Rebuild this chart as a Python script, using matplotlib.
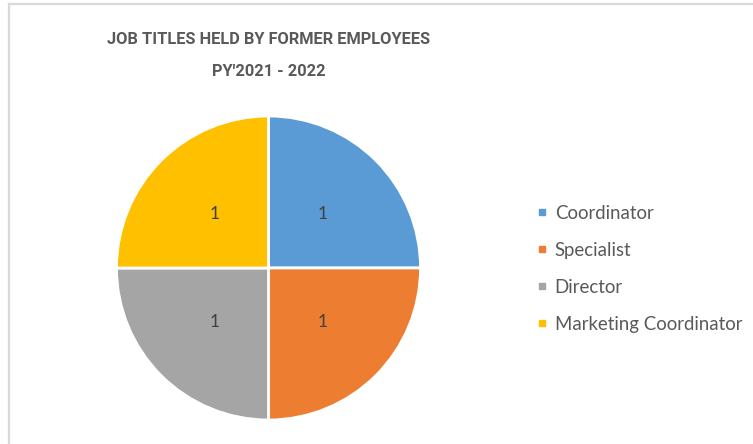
import matplotlib
matplotlib.use("Agg")
import matplotlib.pyplot as plt
from matplotlib.lines import Line2D

# Former employee job titles, one person each
titles = ["Coordinator", "Specialist", "Director", "Marketing Coordinator"]
counts = [1, 1, 1, 1]
colors = ["#5B9BD5", "#ED7D31", "#A5A5A5", "#FFC000"]

FONT = ["Lato", "DejaVu Sans"]
TITLE_FONT = ["Roboto", "DejaVu Sans"]

W, H = 753, 444
fig = plt.figure(figsize=(W / 100, H / 100), dpi=100)
fig.patch.set_facecolor("white")

# chart frame (only top and left edges are visible)
fig.add_artist(Line2D([8.5 / W, 8.5 / W], [0, 1 - 4.5 / H], transform=fig.transFigure,
                      color="#d9d9d9", lw=1.6))
fig.add_artist(Line2D([8.5 / W, 1], [1 - 4.5 / H, 1 - 4.5 / H], transform=fig.transFigure,
                      color="#d9d9d9", lw=1.6))

# pie sits in a square box, center ~ (268, 268) px, radius ~152 px
cx, cy, r = 268.5, 268, 152
ax = fig.add_axes([(cx - r) / W, (H - cy - r) / H, 2 * r / W, 2 * r / H])
wedges, texts = ax.pie(
    counts,
    colors=colors,
    startangle=90,
    counterclock=False,
    labels=[str(c) for c in counts],
    labeldistance=0.5,
    wedgeprops=dict(edgecolor="white", linewidth=2),
    textprops=dict(color="#404040", fontsize=12.5, family=FONT),
)
for t in texts:
    t.set_ha("center")
    t.set_va("center")
ax.set_xlim(-1, 1)
ax.set_ylim(-1, 1)
ax.set_aspect("equal")
ax.axis("off")

fig.text(cx / W, 1 - 39 / H, "JOB TITLES HELD BY FORMER EMPLOYEES", ha="center", va="center",
         fontsize=11.8, fontweight="bold", color="#595959", family=TITLE_FONT)
fig.text(cx / W, 1 - 71 / H, "PY'2021 - 2022", ha="center", va="center",
         fontsize=11.8, fontweight="bold", color="#595959", family=TITLE_FONT)

handles = [Line2D([], [], marker="s", linestyle="none", markersize=5,
                  markerfacecolor=c, markeredgecolor=c) for c in colors]
fig.legend(handles, titles, loc="upper left", bbox_to_anchor=(537 / W, 1 - 205 / H),
           frameon=False, handlelength=0.5, handletextpad=0.45, labelspacing=1.07,
           borderaxespad=0, borderpad=0,
           prop=dict(family=FONT, size=13.4), labelcolor="#595959")

fig.savefig("out.png", dpi=100)
